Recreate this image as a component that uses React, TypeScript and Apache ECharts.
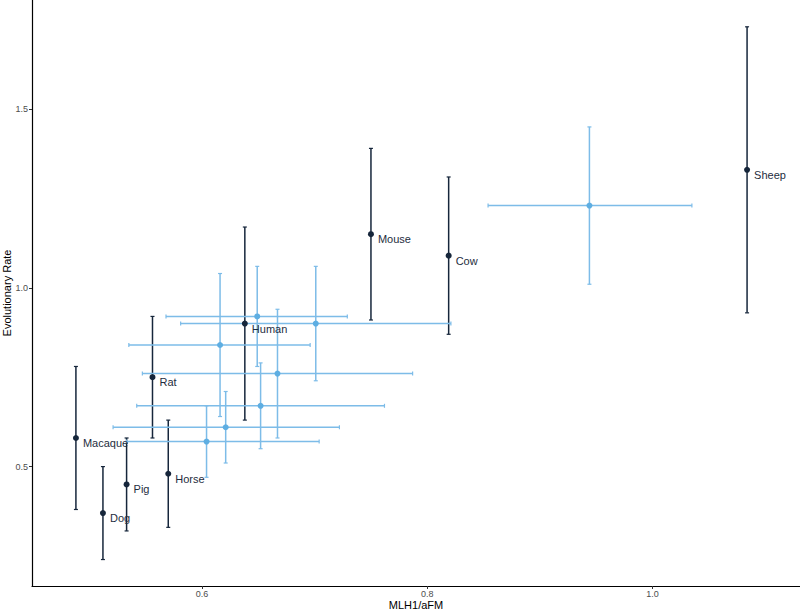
import React, { useEffect, useRef } from "react";
import * as echarts from "echarts";

// Labelled species (dark): MLH1/aFM vs evolutionary rate with rate CI
const darkNames = ["Macaque", "Dog", "Pig", "Rat", "Horse", "Human", "Mouse", "Cow", "Sheep"];
const darkX = [0.488, 0.512, 0.533, 0.556, 0.570, 0.638, 0.750, 0.819, 1.084];
const darkY = [0.58, 0.37, 0.45, 0.75, 0.48, 0.90, 1.15, 1.09, 1.33];
const darkYLow = [0.38, 0.24, 0.32, 0.58, 0.33, 0.63, 0.91, 0.87, 0.93];
const darkYHigh = [0.78, 0.50, 0.58, 0.92, 0.63, 1.17, 1.39, 1.31, 1.73];

// Unlabelled points (light blue) with CI on both axes
const lightX = [0.649, 0.701, 0.616, 0.667, 0.652, 0.621, 0.604, 0.944];
const lightY = [0.92, 0.90, 0.84, 0.76, 0.67, 0.61, 0.57, 1.23];
const lightXLow = [0.568, 0.581, 0.535, 0.547, 0.542, 0.521, 0.533, 0.854];
const lightXHigh = [0.729, 0.821, 0.696, 0.787, 0.762, 0.722, 0.704, 1.035];
const lightYLow = [0.78, 0.74, 0.64, 0.58, 0.55, 0.51, 0.47, 1.01];
const lightYHigh = [1.06, 1.06, 1.04, 0.94, 0.79, 0.71, 0.67, 1.45];

const xTicks = [0.6, 0.8, 1.0];
const yTicks = [0.5, 1.0, 1.5];

const DARK = "#16263b";
const LIGHT = "#5eaee2";
const LIGHT_BAR = "#7dbce8";
const CAP = 2;

export default function App() {
  const ref = useRef<HTMLDivElement>(null);

  useEffect(() => {
    if (!ref.current) return;
    const chart = echarts.init(ref.current, null, { renderer: "svg" });

    const darkBarData = darkX.map((x, i) => [x, darkYLow[i], darkYHigh[i]]);
    const lightBarData = lightX.map((x, i) => [
      x,
      lightY[i],
      lightXLow[i],
      lightXHigh[i],
      lightYLow[i],
      lightYHigh[i],
    ]);

    const seg = (x1: number, y1: number, x2: number, y2: number, stroke: string, w: number) => ({
      type: "line",
      shape: { x1, y1, x2, y2 },
      style: { stroke, lineWidth: w },
    });

    chart.setOption({
      animation: false,
      grid: {
        left: 32,
        right: 0,
        top: 0,
        bottom: 26,
        containLabel: false,
        outerBoundsMode: "none",
      },
      xAxis: {
        type: "value",
        min: 0.449,
        max: 1.131,
        name: "MLH1/aFM",
        nameLocation: "middle",
        nameGap: 13,
        nameMoveOverlap: false,
        nameTextStyle: { fontFamily: "Liberation Sans", fontSize: 11, color: "#000" },
        axisLine: { show: true, onZero: false, lineStyle: { color: "#000", width: 1.2 } },
        axisTick: { show: true, length: 3, customValues: xTicks, lineStyle: { color: "#333" } },
        axisLabel: {
          customValues: xTicks,
          formatter: (v: number) => v.toFixed(1),
          fontFamily: "Liberation Sans",
          fontSize: 9,
          color: "#4d4d4d",
          margin: 3,
        },
        splitLine: { show: false },
      },
      yAxis: {
        type: "value",
        min: 0.166,
        max: 1.805,
        name: "Evolutionary Rate",
        nameLocation: "middle",
        nameGap: 20,
        nameMoveOverlap: false,
        nameTextStyle: { fontFamily: "Liberation Sans", fontSize: 11, color: "#000" },
        axisLine: { show: true, onZero: false, lineStyle: { color: "#000", width: 1.2 } },
        axisTick: { show: true, length: 3, customValues: yTicks, lineStyle: { color: "#333" } },
        axisLabel: {
          customValues: yTicks,
          formatter: (v: number) => v.toFixed(1),
          fontFamily: "Liberation Sans",
          fontSize: 9,
          color: "#4d4d4d",
          margin: 4,
        },
        splitLine: { show: false },
      },
      series: [
        {
          type: "custom",
          z: 1,
          encode: { x: 0, y: [1, 2] },
          data: darkBarData,
          renderItem: (params: any, api: any) => {
            const x = api.value(0);
            const top = api.coord([x, api.value(2)]);
            const bot = api.coord([x, api.value(1)]);
            return {
              type: "group",
              children: [
                seg(top[0], top[1], bot[0], bot[1], DARK, 1.5),
                seg(top[0] - CAP, top[1], top[0] + CAP, top[1], DARK, 1.2),
                seg(bot[0] - CAP, bot[1], bot[0] + CAP, bot[1], DARK, 1.2),
              ],
            };
          },
        },
        {
          type: "custom",
          z: 2,
          encode: { x: [0, 2, 3], y: [1, 4, 5] },
          data: lightBarData,
          renderItem: (params: any, api: any) => {
            const x = api.value(0);
            const y = api.value(1);
            const l = api.coord([api.value(2), y]);
            const r = api.coord([api.value(3), y]);
            const t = api.coord([x, api.value(5)]);
            const b = api.coord([x, api.value(4)]);
            return {
              type: "group",
              children: [
                seg(l[0], l[1], r[0], r[1], LIGHT_BAR, 1.5),
                seg(l[0], l[1] - CAP, l[0], l[1] + CAP, LIGHT_BAR, 1.2),
                seg(r[0], r[1] - CAP, r[0], r[1] + CAP, LIGHT_BAR, 1.2),
                seg(t[0], t[1], b[0], b[1], LIGHT_BAR, 1.5),
                seg(t[0] - CAP, t[1], t[0] + CAP, t[1], LIGHT_BAR, 1.2),
                seg(b[0] - CAP, b[1], b[0] + CAP, b[1], LIGHT_BAR, 1.2),
              ],
            };
          },
        },
        {
          type: "scatter",
          z: 3,
          symbolSize: 6,
          itemStyle: { color: LIGHT, opacity: 1 },
          data: lightX.map((x, i) => [x, lightY[i]]),
        },
        {
          type: "scatter",
          z: 4,
          symbolSize: 6,
          itemStyle: { color: DARK, opacity: 1 },
          data: darkX.map((x, i) => ({ name: darkNames[i], value: [x, darkY[i]] })),
          label: {
            show: true,
            position: "right",
            distance: 4,
            offset: [0, 5],
            formatter: (p: any) => p.name,
            fontFamily: "Liberation Sans",
            fontSize: 11,
            color: "#1e2d40",
          },
        },
      ],
    });

    return () => chart.dispose();
  }, []);

  return (
    <div
      ref={ref}
      style={{ position: "absolute", left: 0, top: 0, width: 800, height: 612 }}
    />
  );
}
